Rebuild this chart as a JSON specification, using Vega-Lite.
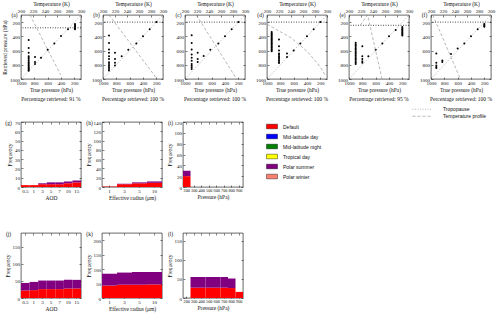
{
"$schema":"https://vega.github.io/schema/vega-lite/v6.json",
"padding":{"left":2,"top":1,"right":0,"bottom":0},
"background":"white",
"config":{
 "font":"Liberation Serif",
 "view":{"stroke":"black","strokeWidth":0.6},
 "axis":{"labelFont":"Liberation Serif","titleFont":"Liberation Serif","labelFontSize":5,"titleFontSize":5.5,"titleFontWeight":"normal","labelFontWeight":"normal","domain":false,"grid":false,"tickSize":-2,"tickWidth":0.5,"tickColor":"black","labelPadding":3.5,"titlePadding":2,"labelColor":"#111","titleColor":"#111","labelOverlap":false,"labelFlush":false,"labelBound":false,"tickCount":30},
 "title":{"font":"Liberation Serif","fontSize":5.5,"fontWeight":"normal","color":"#111"},
 "legend":{"labelFont":"Liberation Sans","labelFontSize":5,"labelColor":"#111","rowPadding":0}
},
"datasets":{
 "diag":[{"tp":1000,"rp":1000},{"tp":100,"rp":100}],
 "trop":[{"panel":"a","rp":280},{"panel":"b","rp":200},{"panel":"c","rp":200},{"panel":"d","rp":200},{"panel":"e","rp":245},{"panel":"f","rp":200}],
 "temp":[
  {"panel":"a","T":215,"rp":100},{"panel":"a","T":266,"rp":940},
  {"panel":"b","T":210,"rp":100},{"panel":"b","T":288,"rp":975},
  {"panel":"c","T":219,"rp":100},{"panel":"c","T":286,"rp":1000},
  {"panel":"d","T":200,"rp":230},{"panel":"d","T":240,"rp":420},{"panel":"d","T":268,"rp":620},{"panel":"d","T":288,"rp":820},{"panel":"d","T":298,"rp":960},
  {"panel":"e","T":231,"rp":100},{"panel":"e","T":219,"rp":240},{"panel":"e","T":255,"rp":1000},
  {"panel":"f","T":203,"rp":100},{"panel":"f","T":249,"rp":1000}
 ],
 "pts":[
  {"panel":"a","tp":885,"rp":450},{"panel":"a","tp":885,"rp":565},{"panel":"a","tp":885,"rp":630},{"panel":"a","tp":885,"rp":680},{"panel":"a","tp":885,"rp":700},{"panel":"a","tp":885,"rp":720},{"panel":"a","tp":885,"rp":745},{"panel":"a","tp":885,"rp":765},{"panel":"a","tp":885,"rp":780},{"panel":"a","tp":885,"rp":800},{"panel":"a","tp":885,"rp":815},{"panel":"a","tp":885,"rp":830},{"panel":"a","tp":885,"rp":845},{"panel":"a","tp":885,"rp":860},{"panel":"a","tp":885,"rp":875},{"panel":"a","tp":885,"rp":885},
  {"panel":"a","tp":790,"rp":690},{"panel":"a","tp":790,"rp":760},{"panel":"a","tp":790,"rp":790},
  {"panel":"a","tp":700,"rp":700},{"panel":"a","tp":600,"rp":590},{"panel":"a","tp":500,"rp":500},{"panel":"a","tp":400,"rp":395},{"panel":"a","tp":295,"rp":300},
  {"panel":"a","tp":190,"rp":225},{"panel":"a","tp":190,"rp":240},{"panel":"a","tp":190,"rp":255},{"panel":"a","tp":190,"rp":270},{"panel":"a","tp":190,"rp":285},{"panel":"a","tp":190,"rp":300},
  {"panel":"b","tp":910,"rp":390},{"panel":"b","tp":910,"rp":495},{"panel":"b","tp":910,"rp":585},{"panel":"b","tp":910,"rp":630},{"panel":"b","tp":910,"rp":680},{"panel":"b","tp":910,"rp":720},{"panel":"b","tp":910,"rp":765},{"panel":"b","tp":910,"rp":790},{"panel":"b","tp":910,"rp":815},{"panel":"b","tp":910,"rp":835},{"panel":"b","tp":910,"rp":860},{"panel":"b","tp":910,"rp":880},
  {"panel":"b","tp":820,"rp":630},{"panel":"b","tp":820,"rp":720},{"panel":"b","tp":820,"rp":770},{"panel":"b","tp":820,"rp":810},
  {"panel":"b","tp":720,"rp":680},{"panel":"b","tp":620,"rp":590},{"panel":"b","tp":500,"rp":500},{"panel":"b","tp":400,"rp":400},{"panel":"b","tp":300,"rp":300},{"panel":"b","tp":200,"rp":200},
  {"panel":"c","tp":900,"rp":385},{"panel":"c","tp":900,"rp":495},{"panel":"c","tp":900,"rp":585},{"panel":"c","tp":900,"rp":655},{"panel":"c","tp":900,"rp":700},{"panel":"c","tp":900,"rp":745},{"panel":"c","tp":900,"rp":790},{"panel":"c","tp":900,"rp":815},{"panel":"c","tp":900,"rp":835},{"panel":"c","tp":900,"rp":860},
  {"panel":"c","tp":810,"rp":630},{"panel":"c","tp":810,"rp":720},{"panel":"c","tp":810,"rp":760},
  {"panel":"c","tp":720,"rp":675},{"panel":"c","tp":620,"rp":590},{"panel":"c","tp":500,"rp":500},{"panel":"c","tp":400,"rp":400},{"panel":"c","tp":300,"rp":300},{"panel":"c","tp":200,"rp":200},
  {"panel":"d","tp":930,"rp":340},{"panel":"d","tp":930,"rp":355},{"panel":"d","tp":930,"rp":370},{"panel":"d","tp":930,"rp":385},{"panel":"d","tp":930,"rp":400},{"panel":"d","tp":930,"rp":415},{"panel":"d","tp":930,"rp":430},{"panel":"d","tp":930,"rp":445},{"panel":"d","tp":930,"rp":460},{"panel":"d","tp":930,"rp":475},{"panel":"d","tp":930,"rp":490},{"panel":"d","tp":930,"rp":505},{"panel":"d","tp":930,"rp":520},{"panel":"d","tp":930,"rp":535},{"panel":"d","tp":930,"rp":550},{"panel":"d","tp":930,"rp":565},{"panel":"d","tp":930,"rp":580},{"panel":"d","tp":930,"rp":595},{"panel":"d","tp":930,"rp":610},
  {"panel":"d","tp":820,"rp":445},{"panel":"d","tp":820,"rp":540},{"panel":"d","tp":820,"rp":600},{"panel":"d","tp":820,"rp":640},{"panel":"d","tp":820,"rp":660},{"panel":"d","tp":820,"rp":680},{"panel":"d","tp":820,"rp":700},{"panel":"d","tp":820,"rp":720},{"panel":"d","tp":820,"rp":740},{"panel":"d","tp":820,"rp":760},{"panel":"d","tp":820,"rp":775},
  {"panel":"d","tp":700,"rp":640},{"panel":"d","tp":700,"rp":690},{"panel":"d","tp":600,"rp":600},{"panel":"d","tp":500,"rp":500},{"panel":"d","tp":400,"rp":400},{"panel":"d","tp":300,"rp":300},{"panel":"d","tp":200,"rp":200},
  {"panel":"e","tp":900,"rp":490},{"panel":"e","tp":900,"rp":510},{"panel":"e","tp":900,"rp":530},{"panel":"e","tp":900,"rp":550},{"panel":"e","tp":900,"rp":570},{"panel":"e","tp":900,"rp":590},{"panel":"e","tp":900,"rp":610},{"panel":"e","tp":900,"rp":630},{"panel":"e","tp":900,"rp":650},{"panel":"e","tp":900,"rp":670},{"panel":"e","tp":900,"rp":690},{"panel":"e","tp":900,"rp":710},{"panel":"e","tp":900,"rp":730},{"panel":"e","tp":900,"rp":750},{"panel":"e","tp":900,"rp":770},{"panel":"e","tp":900,"rp":790},
  {"panel":"e","tp":800,"rp":540},{"panel":"e","tp":800,"rp":680},{"panel":"e","tp":800,"rp":720},{"panel":"e","tp":800,"rp":750},{"panel":"e","tp":800,"rp":770},
  {"panel":"e","tp":710,"rp":680},{"panel":"e","tp":600,"rp":590},{"panel":"e","tp":500,"rp":500},{"panel":"e","tp":400,"rp":400},{"panel":"e","tp":300,"rp":310},
  {"panel":"e","tp":200,"rp":270},{"panel":"e","tp":200,"rp":285},{"panel":"e","tp":200,"rp":300},{"panel":"e","tp":200,"rp":315},{"panel":"e","tp":200,"rp":330},{"panel":"e","tp":200,"rp":345},{"panel":"e","tp":200,"rp":360},{"panel":"e","tp":200,"rp":375},{"panel":"e","tp":200,"rp":390},
  {"panel":"f","tp":920,"rp":640},{"panel":"f","tp":920,"rp":770},{"panel":"f","tp":920,"rp":810},{"panel":"f","tp":920,"rp":830},{"panel":"f","tp":920,"rp":845},
  {"panel":"f","tp":830,"rp":740},{"panel":"f","tp":830,"rp":760},
  {"panel":"f","tp":700,"rp":650},{"panel":"f","tp":600,"rp":570},{"panel":"f","tp":500,"rp":500},{"panel":"f","tp":400,"rp":400},{"panel":"f","tp":300,"rp":300},
  {"panel":"f","tp":200,"rp":225},{"panel":"f","tp":200,"rp":240},{"panel":"f","tp":200,"rp":255},{"panel":"f","tp":200,"rp":265}
 ],
 "hist":[
  {"panel":"g","bin":"0.5","scenario":"Default","freq":2},{"panel":"g","bin":"1","scenario":"Default","freq":2},{"panel":"g","bin":"3","scenario":"Default","freq":3},{"panel":"g","bin":"5","scenario":"Default","freq":3},{"panel":"g","bin":"7","scenario":"Default","freq":3},{"panel":"g","bin":"10","scenario":"Default","freq":4},{"panel":"g","bin":"15","scenario":"Default","freq":5},
  {"panel":"g","bin":"0.5","scenario":"Polar summer","freq":0},{"panel":"g","bin":"1","scenario":"Polar summer","freq":0},{"panel":"g","bin":"3","scenario":"Polar summer","freq":1},{"panel":"g","bin":"5","scenario":"Polar summer","freq":2},{"panel":"g","bin":"7","scenario":"Polar summer","freq":2},{"panel":"g","bin":"10","scenario":"Polar summer","freq":2},{"panel":"g","bin":"15","scenario":"Polar summer","freq":2},
  {"panel":"h","bin":"1","scenario":"Default","freq":1},{"panel":"h","bin":"3","scenario":"Default","freq":6},{"panel":"h","bin":"5","scenario":"Default","freq":8},{"panel":"h","bin":"10","scenario":"Default","freq":9},
  {"panel":"h","bin":"1","scenario":"Polar summer","freq":0},{"panel":"h","bin":"3","scenario":"Polar summer","freq":1},{"panel":"h","bin":"5","scenario":"Polar summer","freq":2},{"panel":"h","bin":"10","scenario":"Polar summer","freq":3},
  {"panel":"i","bin":"200","scenario":"Default","freq":20},{"panel":"i","bin":"300","scenario":"Default","freq":0},{"panel":"i","bin":"400","scenario":"Default","freq":0},{"panel":"i","bin":"500","scenario":"Default","freq":0},{"panel":"i","bin":"600","scenario":"Default","freq":0},{"panel":"i","bin":"700","scenario":"Default","freq":0},{"panel":"i","bin":"800","scenario":"Default","freq":0},{"panel":"i","bin":"900","scenario":"Default","freq":0},
  {"panel":"i","bin":"200","scenario":"Polar summer","freq":10},
  {"panel":"j","bin":"0.5","scenario":"Default","freq":22},{"panel":"j","bin":"1","scenario":"Default","freq":23},{"panel":"j","bin":"3","scenario":"Default","freq":26},{"panel":"j","bin":"5","scenario":"Default","freq":26},{"panel":"j","bin":"7","scenario":"Default","freq":26},{"panel":"j","bin":"10","scenario":"Default","freq":28},{"panel":"j","bin":"15","scenario":"Default","freq":28},
  {"panel":"j","bin":"0.5","scenario":"Polar summer","freq":22},{"panel":"j","bin":"1","scenario":"Polar summer","freq":24},{"panel":"j","bin":"3","scenario":"Polar summer","freq":25},{"panel":"j","bin":"5","scenario":"Polar summer","freq":25},{"panel":"j","bin":"7","scenario":"Polar summer","freq":25},{"panel":"j","bin":"10","scenario":"Polar summer","freq":25},{"panel":"j","bin":"15","scenario":"Polar summer","freq":25},
  {"panel":"k","bin":"1","scenario":"Default","freq":43},{"panel":"k","bin":"3","scenario":"Default","freq":46},{"panel":"k","bin":"5","scenario":"Default","freq":46},{"panel":"k","bin":"10","scenario":"Default","freq":47},
  {"panel":"k","bin":"1","scenario":"Polar summer","freq":41},{"panel":"k","bin":"3","scenario":"Polar summer","freq":42},{"panel":"k","bin":"5","scenario":"Polar summer","freq":44},{"panel":"k","bin":"10","scenario":"Polar summer","freq":43},
  {"panel":"l","bin":"200","scenario":"Default","freq":0},{"panel":"l","bin":"300","scenario":"Default","freq":27},{"panel":"l","bin":"400","scenario":"Default","freq":27},{"panel":"l","bin":"500","scenario":"Default","freq":27},{"panel":"l","bin":"600","scenario":"Default","freq":27},{"panel":"l","bin":"700","scenario":"Default","freq":27},{"panel":"l","bin":"800","scenario":"Default","freq":26},{"panel":"l","bin":"900","scenario":"Default","freq":16},
  {"panel":"l","bin":"300","scenario":"Polar summer","freq":28},{"panel":"l","bin":"400","scenario":"Polar summer","freq":28},{"panel":"l","bin":"500","scenario":"Polar summer","freq":28},{"panel":"l","bin":"600","scenario":"Polar summer","freq":28},{"panel":"l","bin":"700","scenario":"Polar summer","freq":28},{"panel":"l","bin":"800","scenario":"Polar summer","freq":25},{"panel":"l","bin":"900","scenario":"Polar summer","freq":0}
 ]
},
"vconcat":[
 {"hconcat":[
  {"width":60,"height":64,"title":{"text":"Percentage retrieved: 91 %","orient":"bottom","offset":4},
   "layer":[
    {"layer":[
     {"data":{"name":"diag"},"mark":{"type":"line","strokeDash":[1,1.5],"color":"#888","strokeWidth":0.6},"encoding":{"x":{"field":"tp","type":"quantitative","scale":{"domain":[100,1000],"reverse":true,"nice":false,"zero":false},"axis":{"values":[200,400,600,800,1000],"tickCount":30,"format":"d","labelOverlap":false,"title":"True pressure (hPa)"}},"y":{"field":"rp","type":"quantitative","scale":{"domain":[100,1000],"reverse":true,"nice":false,"zero":false},"axis":{"values":[200,400,600,800,1000],"tickCount":30,"format":"d","labelOverlap":false,"title":"Retrieved pressure (hPa)"}}}},
     {"data":{"name":"trop"},"transform":[{"filter":"datum.panel == 'a'"}],"mark":{"type":"rule","color":"black","strokeWidth":0.7},"encoding":{"y":{"field":"rp","type":"quantitative"},"strokeDash":{"datum":"Tropopause","scale":{"domain":["Tropopause","Temperature profile"],"range":[[1,1.5],[3,2]]},"legend":{"orient":"none","legendX":391,"legendY":91,"title":null,"symbolType":"stroke","symbolSize":400,"symbolStrokeColor":"black","symbolStrokeWidth":0.6,"labelOffset":10,"clipHeight":6.5}}}},
     {"data":{"name":"pts"},"transform":[{"filter":"datum.panel == 'a'"}],"mark":{"type":"circle","size":4,"color":"black","opacity":1},"encoding":{"x":{"field":"tp","type":"quantitative"},"y":{"field":"rp","type":"quantitative"}}}
    ]},
    {"data":{"name":"temp"},"transform":[{"filter":"datum.panel == 'a'"}],"mark":{"type":"line","color":"#888","strokeWidth":0.6,"clip":true},"encoding":{"x":{"field":"T","type":"quantitative","scale":{"domain":[200,300],"nice":false,"zero":false},"axis":{"orient":"top","values":[200,220,240,260,280,300],"tickCount":30,"format":"d","labelOverlap":false,"title":"Temperature (K)"}},"y":{"field":"rp","type":"quantitative","axis":{"orient":"right","labels":false,"values":[200,400,600,800,1000],"tickCount":30,"title":"(a)","titleAngle":0,"titleX":-67,"titleY":-1,"titleAlign":"center","titleBaseline":"middle"}},"strokeDash":{"datum":"Temperature profile"}}}
   ],
   "resolve":{"scale":{"x":"independent"},"axis":{"y":"independent"}}},
  {"width":60,"height":64,"title":{"text":"Percentage retrieved: 100 %","orient":"bottom","offset":4},
   "layer":[
    {"layer":[
     {"data":{"name":"diag"},"mark":{"type":"line","strokeDash":[1,1.5],"color":"#888","strokeWidth":0.6},"encoding":{"x":{"field":"tp","type":"quantitative","scale":{"domain":[100,1000],"reverse":true,"nice":false,"zero":false},"axis":{"values":[200,400,600,800,1000],"tickCount":30,"format":"d","labelOverlap":false,"title":"True pressure (hPa)"}},"y":{"field":"rp","type":"quantitative","scale":{"domain":[100,1000],"reverse":true,"nice":false,"zero":false},"axis":{"values":[200,400,600,800,1000],"tickCount":30,"format":"d","labelOverlap":false,"title":null}}}},
     {"data":{"name":"trop"},"transform":[{"filter":"datum.panel == 'b'"}],"mark":{"type":"rule","color":"black","strokeWidth":0.7},"encoding":{"y":{"field":"rp","type":"quantitative"},"strokeDash":{"datum":"Tropopause"}}},
     {"data":{"name":"pts"},"transform":[{"filter":"datum.panel == 'b'"}],"mark":{"type":"circle","size":4,"color":"black","opacity":1},"encoding":{"x":{"field":"tp","type":"quantitative"},"y":{"field":"rp","type":"quantitative"}}}
    ]},
    {"data":{"name":"temp"},"transform":[{"filter":"datum.panel == 'b'"}],"mark":{"type":"line","color":"#888","strokeWidth":0.6,"clip":true},"encoding":{"x":{"field":"T","type":"quantitative","scale":{"domain":[200,300],"nice":false,"zero":false},"axis":{"orient":"top","values":[200,220,240,260,280,300],"tickCount":30,"format":"d","labelOverlap":false,"title":"Temperature (K)"}},"y":{"field":"rp","type":"quantitative","axis":{"orient":"right","labels":false,"values":[200,400,600,800,1000],"tickCount":30,"title":"(b)","titleAngle":0,"titleX":-67,"titleY":-1,"titleAlign":"center","titleBaseline":"middle"}},"strokeDash":{"datum":"Temperature profile"}}}
   ],
   "resolve":{"scale":{"x":"independent"},"axis":{"y":"independent"}}},
  {"width":60,"height":64,"title":{"text":"Percentage retrieved: 100 %","orient":"bottom","offset":4},
   "layer":[
    {"layer":[
     {"data":{"name":"diag"},"mark":{"type":"line","strokeDash":[1,1.5],"color":"#888","strokeWidth":0.6},"encoding":{"x":{"field":"tp","type":"quantitative","scale":{"domain":[100,1000],"reverse":true,"nice":false,"zero":false},"axis":{"values":[200,400,600,800,1000],"tickCount":30,"format":"d","labelOverlap":false,"title":"True pressure (hPa)"}},"y":{"field":"rp","type":"quantitative","scale":{"domain":[100,1000],"reverse":true,"nice":false,"zero":false},"axis":{"values":[200,400,600,800,1000],"tickCount":30,"format":"d","labelOverlap":false,"title":null}}}},
     {"data":{"name":"trop"},"transform":[{"filter":"datum.panel == 'c'"}],"mark":{"type":"rule","color":"black","strokeWidth":0.7},"encoding":{"y":{"field":"rp","type":"quantitative"},"strokeDash":{"datum":"Tropopause"}}},
     {"data":{"name":"pts"},"transform":[{"filter":"datum.panel == 'c'"}],"mark":{"type":"circle","size":4,"color":"black","opacity":1},"encoding":{"x":{"field":"tp","type":"quantitative"},"y":{"field":"rp","type":"quantitative"}}}
    ]},
    {"data":{"name":"temp"},"transform":[{"filter":"datum.panel == 'c'"}],"mark":{"type":"line","color":"#888","strokeWidth":0.6,"clip":true},"encoding":{"x":{"field":"T","type":"quantitative","scale":{"domain":[200,300],"nice":false,"zero":false},"axis":{"orient":"top","values":[200,220,240,260,280,300],"tickCount":30,"format":"d","labelOverlap":false,"title":"Temperature (K)"}},"y":{"field":"rp","type":"quantitative","axis":{"orient":"right","labels":false,"values":[200,400,600,800,1000],"tickCount":30,"title":"(c)","titleAngle":0,"titleX":-67,"titleY":-1,"titleAlign":"center","titleBaseline":"middle"}},"strokeDash":{"datum":"Temperature profile"}}}
   ],
   "resolve":{"scale":{"x":"independent"},"axis":{"y":"independent"}}},
  {"width":60,"height":64,"title":{"text":"Percentage retrieved: 100 %","orient":"bottom","offset":4},
   "layer":[
    {"layer":[
     {"data":{"name":"diag"},"mark":{"type":"line","strokeDash":[1,1.5],"color":"#888","strokeWidth":0.6},"encoding":{"x":{"field":"tp","type":"quantitative","scale":{"domain":[100,1000],"reverse":true,"nice":false,"zero":false},"axis":{"values":[200,400,600,800,1000],"tickCount":30,"format":"d","labelOverlap":false,"title":"True pressure (hPa)"}},"y":{"field":"rp","type":"quantitative","scale":{"domain":[100,1000],"reverse":true,"nice":false,"zero":false},"axis":{"values":[200,400,600,800,1000],"tickCount":30,"format":"d","labelOverlap":false,"title":null}}}},
     {"data":{"name":"trop"},"transform":[{"filter":"datum.panel == 'd'"}],"mark":{"type":"rule","color":"black","strokeWidth":0.7},"encoding":{"y":{"field":"rp","type":"quantitative"},"strokeDash":{"datum":"Tropopause"}}},
     {"data":{"name":"pts"},"transform":[{"filter":"datum.panel == 'd'"}],"mark":{"type":"circle","size":4,"color":"black","opacity":1},"encoding":{"x":{"field":"tp","type":"quantitative"},"y":{"field":"rp","type":"quantitative"}}}
    ]},
    {"data":{"name":"temp"},"transform":[{"filter":"datum.panel == 'd'"}],"mark":{"type":"line","color":"#888","strokeWidth":0.6,"clip":true},"encoding":{"x":{"field":"T","type":"quantitative","scale":{"domain":[200,300],"nice":false,"zero":false},"axis":{"orient":"top","values":[200,220,240,260,280,300],"tickCount":30,"format":"d","labelOverlap":false,"title":"Temperature (K)"}},"y":{"field":"rp","type":"quantitative","axis":{"orient":"right","labels":false,"values":[200,400,600,800,1000],"tickCount":30,"title":"(d)","titleAngle":0,"titleX":-67,"titleY":-1,"titleAlign":"center","titleBaseline":"middle"}},"strokeDash":{"datum":"Temperature profile"}}}
   ],
   "resolve":{"scale":{"x":"independent"},"axis":{"y":"independent"}}},
  {"width":60,"height":64,"title":{"text":"Percentage retrieved: 95 %","orient":"bottom","offset":4},
   "layer":[
    {"layer":[
     {"data":{"name":"diag"},"mark":{"type":"line","strokeDash":[1,1.5],"color":"#888","strokeWidth":0.6},"encoding":{"x":{"field":"tp","type":"quantitative","scale":{"domain":[100,1000],"reverse":true,"nice":false,"zero":false},"axis":{"values":[200,400,600,800,1000],"tickCount":30,"format":"d","labelOverlap":false,"title":"True pressure (hPa)"}},"y":{"field":"rp","type":"quantitative","scale":{"domain":[100,1000],"reverse":true,"nice":false,"zero":false},"axis":{"values":[200,400,600,800,1000],"tickCount":30,"format":"d","labelOverlap":false,"title":null}}}},
     {"data":{"name":"trop"},"transform":[{"filter":"datum.panel == 'e'"}],"mark":{"type":"rule","color":"black","strokeWidth":0.7},"encoding":{"y":{"field":"rp","type":"quantitative"},"strokeDash":{"datum":"Tropopause"}}},
     {"data":{"name":"pts"},"transform":[{"filter":"datum.panel == 'e'"}],"mark":{"type":"circle","size":4,"color":"black","opacity":1},"encoding":{"x":{"field":"tp","type":"quantitative"},"y":{"field":"rp","type":"quantitative"}}}
    ]},
    {"data":{"name":"temp"},"transform":[{"filter":"datum.panel == 'e'"}],"mark":{"type":"line","color":"#888","strokeWidth":0.6,"clip":true},"encoding":{"x":{"field":"T","type":"quantitative","scale":{"domain":[200,300],"nice":false,"zero":false},"axis":{"orient":"top","values":[200,220,240,260,280,300],"tickCount":30,"format":"d","labelOverlap":false,"title":"Temperature (K)"}},"y":{"field":"rp","type":"quantitative","axis":{"orient":"right","labels":false,"values":[200,400,600,800,1000],"tickCount":30,"title":"(e)","titleAngle":0,"titleX":-67,"titleY":-1,"titleAlign":"center","titleBaseline":"middle"}},"strokeDash":{"datum":"Temperature profile"}}}
   ],
   "resolve":{"scale":{"x":"independent"},"axis":{"y":"independent"}}},
  {"width":60,"height":64,"title":{"text":"Percentage retrieved: 100 %","orient":"bottom","offset":4},
   "layer":[
    {"layer":[
     {"data":{"name":"diag"},"mark":{"type":"line","strokeDash":[1,1.5],"color":"#888","strokeWidth":0.6},"encoding":{"x":{"field":"tp","type":"quantitative","scale":{"domain":[100,1000],"reverse":true,"nice":false,"zero":false},"axis":{"values":[200,400,600,800,1000],"tickCount":30,"format":"d","labelOverlap":false,"title":"True pressure (hPa)"}},"y":{"field":"rp","type":"quantitative","scale":{"domain":[100,1000],"reverse":true,"nice":false,"zero":false},"axis":{"values":[200,400,600,800,1000],"tickCount":30,"format":"d","labelOverlap":false,"title":null}}}},
     {"data":{"name":"trop"},"transform":[{"filter":"datum.panel == 'f'"}],"mark":{"type":"rule","color":"black","strokeWidth":0.7},"encoding":{"y":{"field":"rp","type":"quantitative"},"strokeDash":{"datum":"Tropopause"}}},
     {"data":{"name":"pts"},"transform":[{"filter":"datum.panel == 'f'"}],"mark":{"type":"circle","size":4,"color":"black","opacity":1},"encoding":{"x":{"field":"tp","type":"quantitative"},"y":{"field":"rp","type":"quantitative"}}}
    ]},
    {"data":{"name":"temp"},"transform":[{"filter":"datum.panel == 'f'"}],"mark":{"type":"line","color":"#888","strokeWidth":0.6,"clip":true},"encoding":{"x":{"field":"T","type":"quantitative","scale":{"domain":[200,300],"nice":false,"zero":false},"axis":{"orient":"top","values":[200,220,240,260,280,300],"tickCount":30,"format":"d","labelOverlap":false,"title":"Temperature (K)"}},"y":{"field":"rp","type":"quantitative","axis":{"orient":"right","labels":false,"values":[200,400,600,800,1000],"tickCount":30,"title":"(f)","titleAngle":0,"titleX":-67,"titleY":-1,"titleAlign":"center","titleBaseline":"middle"}},"strokeDash":{"datum":"Temperature profile"}}}
   ],
   "resolve":{"scale":{"x":"independent"},"axis":{"y":"independent"}}}
 ],"spacing":22,"bounds":"flush"},
 {"vconcat":[
  {"hconcat":[
   {"width":60,"height":65,"data":{"name":"hist"},"transform":[{"filter":"datum.panel == 'g'"}],
    "layer":[
     {"mark":{"type":"bar"},"encoding":{"x":{"field":"bin","type":"ordinal","sort":["0.5","1","3","5","7","10","15"],"scale":{"paddingInner":0,"paddingOuter":0},"axis":{"title":"AOD","labelAngle":0,"labelOverlap":false}},"y":{"field":"freq","type":"quantitative","scale":{"domain":[0,70],"nice":false},"axis":{"values":[0,10,20,30,40,50,60,70],"tickCount":30,"labelOverlap":false,"title":"Frequency"}},"color":{"field":"scenario","type":"nominal","scale":{"domain":["Default","Mid-latitude day","Mid-latitude night","Tropical day","Polar summer","Polar winter"],"range":["#ff0000","#0000ff","#008000","#ffff00","#800080","#fa8072"]},"legend":{"orient":"none","legendX":245,"legendY":105.5,"title":null,"symbolType":"M-1,-0.42H1V0.42H-1Z","symbolSize":121,"symbolStrokeColor":"black","symbolStrokeWidth":0.4,"symbolOpacity":1,"labelOffset":5}},"order":{"field":"scenario","sort":"ascending"}}},
     {"mark":{"type":"tick","opacity":0},"encoding":{"x":{"field":"bin","type":"ordinal","sort":["0.5","1","3","5","7","10","15"],"axis":{"orient":"top","labels":false,"title":"(g)","titleAngle":0,"titleX":-13,"titleY":0,"titleAlign":"center","titleBaseline":"middle"}},"y":{"field":"freq","type":"quantitative","axis":{"orient":"right","labels":false,"title":null,"tickCount":30,"values":[0,10,20,30,40,50,60,70]}}}}
    ],"resolve":{"axis":{"x":"independent","y":"independent"}}},
   {"width":60,"height":65,"data":{"name":"hist"},"transform":[{"filter":"datum.panel == 'h'"}],
    "layer":[
     {"mark":{"type":"bar"},"encoding":{"x":{"field":"bin","type":"ordinal","sort":["1","3","5","10"],"scale":{"paddingInner":0,"paddingOuter":0},"axis":{"title":"Effective radius (μm)","labelAngle":0,"labelOverlap":false}},"y":{"field":"freq","type":"quantitative","scale":{"domain":[0,140],"nice":false},"axis":{"values":[0,20,40,60,80,100,120,140],"tickCount":30,"labelOverlap":false,"title":"Frequency"}},"color":{"field":"scenario","type":"nominal"},"order":{"field":"scenario","sort":"ascending"}}},
     {"mark":{"type":"tick","opacity":0},"encoding":{"x":{"field":"bin","type":"ordinal","sort":["1","3","5","10"],"axis":{"orient":"top","labels":false,"title":"(h)","titleAngle":0,"titleX":-13,"titleY":0,"titleAlign":"center","titleBaseline":"middle"}},"y":{"field":"freq","type":"quantitative","axis":{"orient":"right","labels":false,"title":null,"tickCount":30,"values":[0,20,40,60,80,100,120,140]}}}}
    ],"resolve":{"axis":{"x":"independent","y":"independent"}}},
   {"width":60,"height":65,"data":{"name":"hist"},"transform":[{"filter":"datum.panel == 'i'"}],
    "layer":[
     {"mark":{"type":"bar"},"encoding":{"x":{"field":"bin","type":"ordinal","sort":["200","300","400","500","600","700","800","900"],"scale":{"paddingInner":0,"paddingOuter":0},"axis":{"title":"Pressure (hPa)","labelAngle":0,"labelFontSize":4.3,"labelOverlap":false}},"y":{"field":"freq","type":"quantitative","scale":{"domain":[0,120],"nice":false},"axis":{"values":[0,20,40,60,80,100,120],"tickCount":30,"labelOverlap":false,"title":"Frequency"}},"color":{"field":"scenario","type":"nominal"},"order":{"field":"scenario","sort":"ascending"}}},
     {"mark":{"type":"tick","opacity":0},"encoding":{"x":{"field":"bin","type":"ordinal","sort":["200","300","400","500","600","700","800","900"],"axis":{"orient":"top","labels":false,"title":"(i)","titleAngle":0,"titleX":-13,"titleY":0,"titleAlign":"center","titleBaseline":"middle"}},"y":{"field":"freq","type":"quantitative","axis":{"orient":"right","labels":false,"title":null,"tickCount":30,"values":[0,20,40,60,80,100,120]}}}}
    ],"resolve":{"axis":{"x":"independent","y":"independent"}}}
  ],"spacing":21,"bounds":"flush"},
  {"hconcat":[
   {"width":60,"height":65,"data":{"name":"hist"},"transform":[{"filter":"datum.panel == 'j'"}],
    "layer":[
     {"mark":{"type":"bar"},"encoding":{"x":{"field":"bin","type":"ordinal","sort":["0.5","1","3","5","7","10","15"],"scale":{"paddingInner":0,"paddingOuter":0},"axis":{"title":"AOD","labelAngle":0,"labelOverlap":false}},"y":{"field":"freq","type":"quantitative","scale":{"domain":[0,190],"nice":false},"axis":{"values":[0,50,100,150],"tickCount":30,"labelOverlap":false,"title":"Frequency"}},"color":{"field":"scenario","type":"nominal"},"order":{"field":"scenario","sort":"ascending"}}},
     {"mark":{"type":"tick","opacity":0},"encoding":{"x":{"field":"bin","type":"ordinal","sort":["0.5","1","3","5","7","10","15"],"axis":{"orient":"top","labels":false,"title":"(j)","titleAngle":0,"titleX":-13,"titleY":0,"titleAlign":"center","titleBaseline":"middle"}},"y":{"field":"freq","type":"quantitative","axis":{"orient":"right","labels":false,"title":null,"tickCount":30,"values":[0,50,100,150]}}}}
    ],"resolve":{"axis":{"x":"independent","y":"independent"}}},
   {"width":60,"height":65,"data":{"name":"hist"},"transform":[{"filter":"datum.panel == 'k'"}],
    "layer":[
     {"mark":{"type":"bar"},"encoding":{"x":{"field":"bin","type":"ordinal","sort":["1","3","5","10"],"scale":{"paddingInner":0,"paddingOuter":0},"axis":{"title":"Effective radius (μm)","labelAngle":0,"labelOverlap":false}},"y":{"field":"freq","type":"quantitative","scale":{"domain":[0,225],"nice":false},"axis":{"values":[0,50,100,150,200],"tickCount":30,"labelOverlap":false,"title":"Frequency"}},"color":{"field":"scenario","type":"nominal"},"order":{"field":"scenario","sort":"ascending"}}},
     {"mark":{"type":"tick","opacity":0},"encoding":{"x":{"field":"bin","type":"ordinal","sort":["1","3","5","10"],"axis":{"orient":"top","labels":false,"title":"(k)","titleAngle":0,"titleX":-13,"titleY":0,"titleAlign":"center","titleBaseline":"middle"}},"y":{"field":"freq","type":"quantitative","axis":{"orient":"right","labels":false,"title":null,"tickCount":30,"values":[0,50,100,150,200]}}}}
    ],"resolve":{"axis":{"x":"independent","y":"independent"}}},
   {"width":60,"height":65,"data":{"name":"hist"},"transform":[{"filter":"datum.panel == 'l'"}],
    "layer":[
     {"mark":{"type":"bar"},"encoding":{"x":{"field":"bin","type":"ordinal","sort":["200","300","400","500","600","700","800","900"],"scale":{"paddingInner":0,"paddingOuter":0},"axis":{"title":"Pressure (hPa)","labelAngle":0,"labelFontSize":4.3,"labelOverlap":false}},"y":{"field":"freq","type":"quantitative","scale":{"domain":[0,170],"nice":false},"axis":{"values":[0,50,100,150],"tickCount":30,"labelOverlap":false,"title":"Frequency"}},"color":{"field":"scenario","type":"nominal"},"order":{"field":"scenario","sort":"ascending"}}},
     {"mark":{"type":"tick","opacity":0},"encoding":{"x":{"field":"bin","type":"ordinal","sort":["200","300","400","500","600","700","800","900"],"axis":{"orient":"top","labels":false,"title":"(l)","titleAngle":0,"titleX":-13,"titleY":0,"titleAlign":"center","titleBaseline":"middle"}},"y":{"field":"freq","type":"quantitative","axis":{"orient":"right","labels":false,"title":null,"tickCount":30,"values":[0,50,100,150]}}}}
    ],"resolve":{"axis":{"x":"independent","y":"independent"}}}
  ],"spacing":21,"bounds":"flush"}
 ],"spacing":28}
],"spacing":16
}
